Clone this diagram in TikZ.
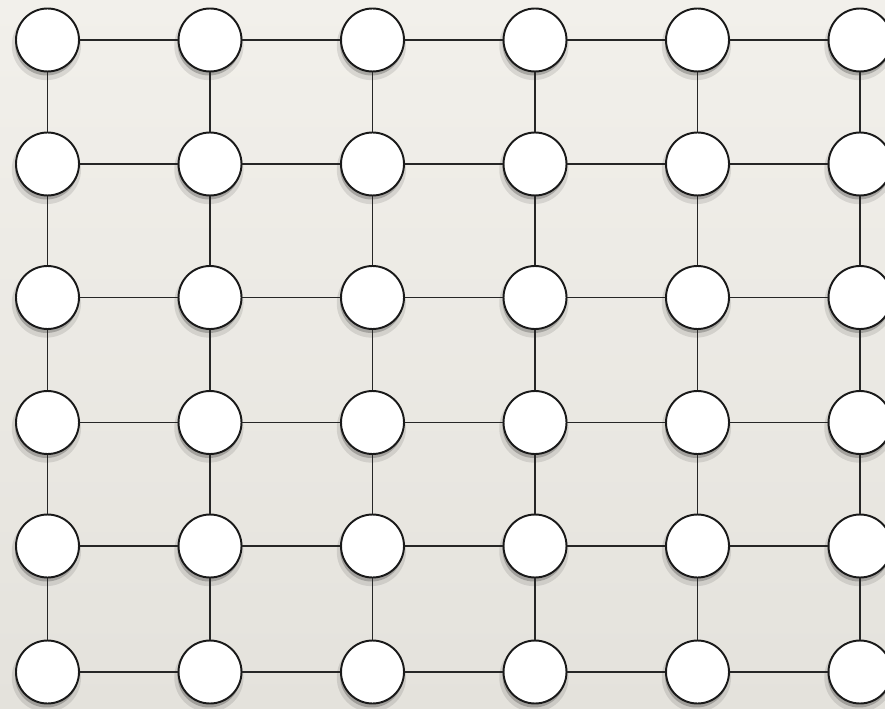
\documentclass[tikz,border=0pt]{standalone}
\usepackage{tikz}
\usetikzlibrary{shadows}
\definecolor{paper}{RGB}{242,240,235}
\definecolor{paperdark}{RGB}{228,226,220}
\tikzset{
  grid node/.style={
    circle,
    draw=black!90,
    fill=white,
    line width=1.1pt,
    minimum size=1.26cm,
    inner sep=0pt,
    general shadow={fill=black, opacity=0.10, shadow scale=1.10, shadow xshift=-0.02cm, shadow yshift=-0.10cm},
    general shadow={fill=black, opacity=0.22, shadow scale=1.0, shadow xshift=-0.02cm, shadow yshift=-0.08cm}
  },
  grid edge/.style={
    draw=black!85,
    line width=0.85pt
  }
}

\begin{document}
\begin{tikzpicture}[x=0.02cm, y=-0.02cm]

  %% ---- 背景（纸张）----
  \useasboundingbox (0,0) rectangle (885,709);
  \clip (0,0) rectangle (885,709);
  \shade[top color=paper, bottom color=paperdark] (0,0) rectangle (885,709);

  %% ---- 6x6 结点 ----
  \foreach \px [count=\i] in {47.5,210,372.5,535,697.5,860} {
    \foreach \py [count=\j] in {40,164,297.5,422.5,546,672} {
      \node[grid node] (n-\i-\j) at (\px,\py) {};
    }
  }

  %% ---- 横向连线 ----
  \foreach \i [evaluate=\i as \k using int(\i+1)] in {1,...,5} {
    \foreach \j in {1,...,6} {
      \draw[grid edge] (n-\i-\j) -- (n-\k-\j);
    }
  }

  %% ---- 纵向连线 ----
  \foreach \i in {1,...,6} {
    \foreach \j [evaluate=\j as \k using int(\j+1)] in {1,...,5} {
      \draw[grid edge] (n-\i-\j) -- (n-\i-\k);
    }
  }

\end{tikzpicture}
\end{document}
